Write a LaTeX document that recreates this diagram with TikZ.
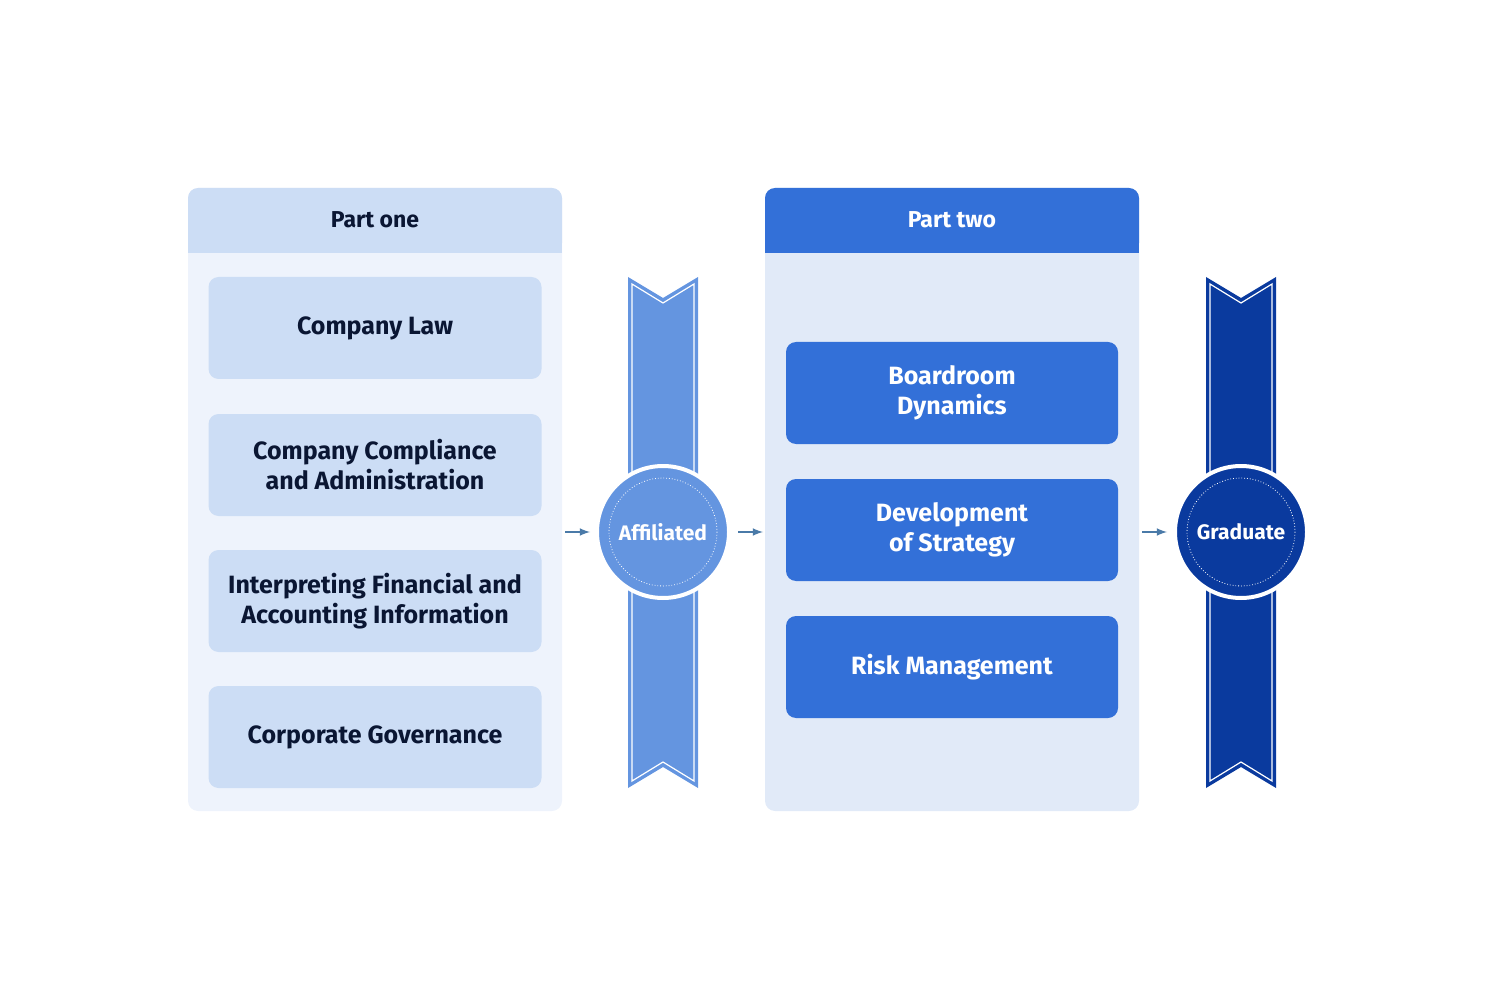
\documentclass[tikz,border=0pt]{standalone}
\usepackage{fontspec}
\setmainfont{Fira Sans}
\usetikzlibrary{positioning}
\definecolor{paleblue}{HTML}{CCDDF5}
\definecolor{panelone}{HTML}{EEF3FC}
\definecolor{paneltwo}{HTML}{E1EAF8}
\definecolor{midblue}{HTML}{3370D8}
\definecolor{ribbonone}{HTML}{6495E0}
\definecolor{ribbontwo}{HTML}{0A3A9E}
\definecolor{darktext}{HTML}{0A1633}
\definecolor{arrowc}{HTML}{4A7AA8}
\tikzset{every picture/.style={line width=0.75pt},
  lightbox/.style={fill=paleblue,rounded corners=5pt,minimum width=166.5pt,minimum height=51pt,align=center,text=darktext,font=\fontsize{12.5}{15}\selectfont\bfseries},
  darkbox/.style={fill=midblue,rounded corners=5pt,minimum width=166pt,minimum height=51pt,align=center,text=white,font=\fontsize{12.5}{15}\selectfont\bfseries},
  badge/.style={circle,draw=white,line width=2pt,minimum size=66pt,text=white,font=\fontsize{10.5}{12}\selectfont\bfseries},
  flow/.style={arrowc,-latex}}
\begin{document}
\begin{tikzpicture}[x=0.5pt,y=0.5pt,yscale=-1,xscale=1]
\useasboundingbox (0,0) rectangle (1500,1000);

% panels
\fill[panelone,rounded corners=5pt] (188,188) rectangle (562,811);
\fill[paleblue,rounded corners=5pt] (188,188) rectangle (562,253);
\fill[paleblue] (188,230) rectangle (562,253);
\fill[paneltwo,rounded corners=5pt] (765,188) rectangle (1139,811);
\fill[midblue,rounded corners=5pt] (765,188) rectangle (1139,253);
\fill[midblue] (765,230) rectangle (1139,253);
\node[text=darktext,font=\fontsize{11.5}{14}\selectfont\bfseries] (hone) at (375,220) {Part one};
\node[text=white,font=\fontsize{11.5}{14}\selectfont\bfseries] (htwo) at (952,220) {Part two};

% Part one modules
\node[lightbox] (law) at (375,328) {Company Law};
\node[lightbox] (compliance) at (375,465) {Company Compliance\\and Administration};
\node[lightbox] (finance) at (375,601) {Interpreting Financial and\\Accounting Information};
\node[lightbox] (governance) at (375,737) {Corporate Governance};

% Part two modules
\node[darkbox] (boardroom) at (952,393) {Boardroom\\Dynamics};
\node[darkbox] (strategy) at (952,530) {Development\\of Strategy};
\node[darkbox] (risk) at (952,667) {Risk Management};

% ribbons
\foreach \cx/\col in {663/ribbonone,1241/ribbontwo}{
  \fill[\col] (\cx-35,277) -- (\cx,298) -- (\cx+35,277) -- (\cx+35,788) -- (\cx,767) -- (\cx-35,788) -- cycle;
  \draw[white,line width=0.6pt] (\cx-31,284) -- (\cx,303) -- (\cx+31,284) -- (\cx+31,781) -- (\cx,762) -- (\cx-31,781) -- cycle;
}
\node[badge,fill=ribbonone] (affiliated) at (663,532) {Affiliated};
\node[badge,fill=ribbontwo] (graduate) at (1241,532) {Graduate};
\draw[white,densely dotted,line width=0.4pt] (affiliated.center) circle (54);
\draw[white,densely dotted,line width=0.4pt] (graduate.center) circle (54);

% arrows
\coordinate (aone) at (565,532);
\coordinate (atwo) at (738,532);
\coordinate (athree) at (1142,532);
\draw[flow] (aone) -- ++(25,0);
\draw[flow] (atwo) -- ++(25,0);
\draw[flow] (athree) -- ++(25,0);
\end{tikzpicture}
\end{document}
